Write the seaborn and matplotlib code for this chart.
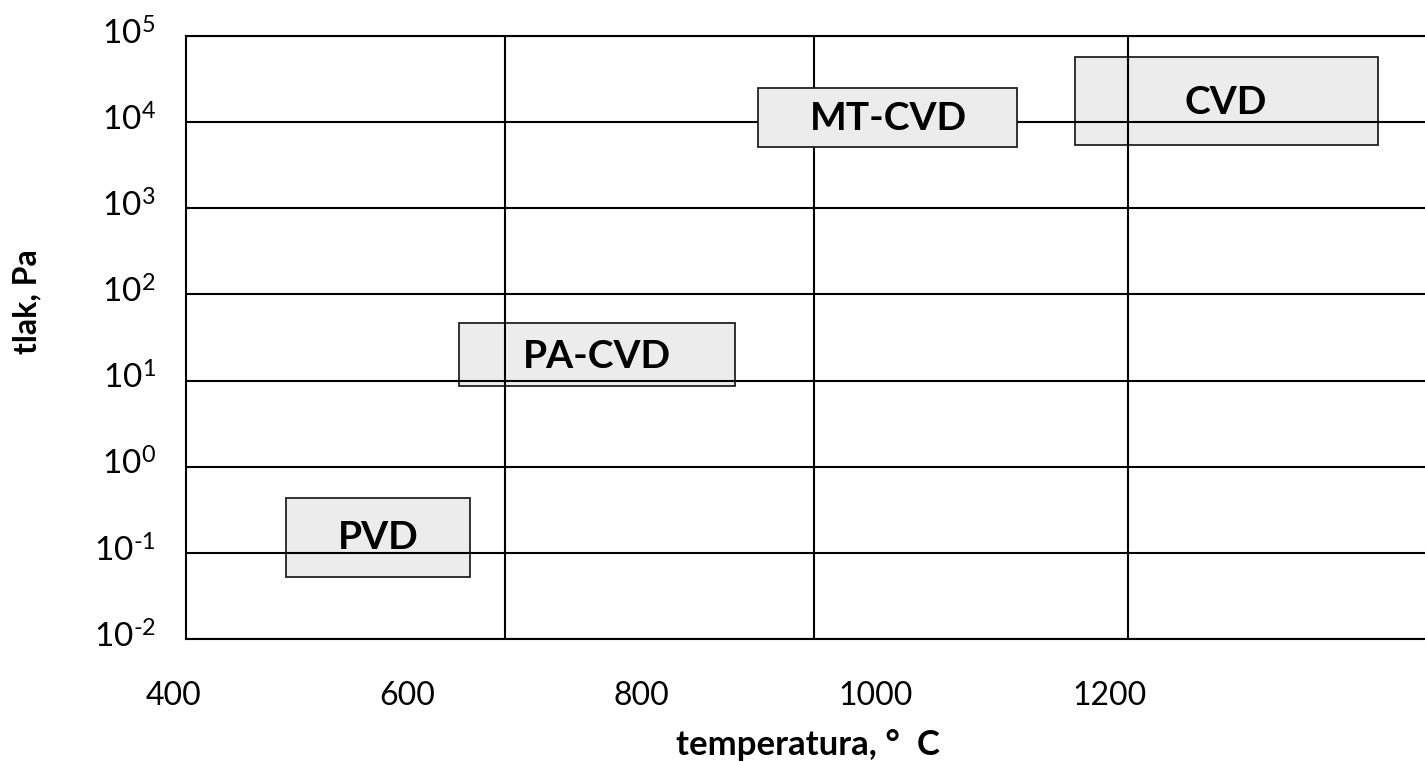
import numpy as np
import pandas as pd
import matplotlib
matplotlib.use("Agg")
import matplotlib.pyplot as plt
import matplotlib.transforms as mtransforms
import seaborn as sns

# procesy povlakovani: rozsah teplot (C) a tlaku (Pa)
procesy = ["PVD", "PA-CVD", "MT-CVD", "CVD"]
t_min = [496, 644, 899, 1170]
t_max = [653, 880, 1121, 1429]
p_min = [0.052, 8.6, 5100, 5400]
p_max = [0.43, 47, 25000, 57000]
# kde lezi popisky v obdelnicich
label_t = [575, 762, 1011, 1299]
label_p = [0.15, 19, 10900, 17100]

teploty = [400, 600, 800, 1000, 1200]
mrizka_t = [683, 947, 1215]
tlaky = [1e-2, 1e-1, 1e0, 1e1, 1e2, 1e3, 1e4, 1e5]

df = pd.DataFrame({"proces": procesy, "t_min": t_min, "t_max": t_max,
                   "p_min": p_min, "p_max": p_max,
                   "label_t": label_t, "label_p": label_p})

sns.set_theme(style="white")
plt.rcParams['font.family'] = ['Lato', 'DejaVu Sans']
plt.rcParams['mathtext.fontset'] = 'custom'
plt.rcParams['mathtext.rm'] = 'Lato'
plt.rcParams['mathtext.it'] = 'Lato:italic'
plt.rcParams['mathtext.bf'] = 'Lato:bold'
plt.rcParams['axes.unicode_minus'] = False
plt.rcParams['axes.labelcolor'] = 'black'

fig = plt.figure(figsize=(14.25, 7.62), dpi=100)
ax = fig.add_axes([186 / 1425, 123 / 762, 1244 / 1425, 603 / 762])

for _, r in df.iterrows():
    z = 3 if r["proces"] == "MT-CVD" else 2
    ax.bar(r["t_min"], r["p_max"] - r["p_min"], bottom=r["p_min"],
           width=r["t_max"] - r["t_min"], align="edge",
           color="#ececec", edgecolor="#222222", linewidth=1.3, zorder=z)
    ax.text(r["label_t"], r["label_p"], r["proces"], ha="center", va="center",
            fontsize=28, fontweight="bold", color="black", zorder=6)

ax.set_yscale("log")
ax.set_ylim(tlaky[0], tlaky[-1])
ax.set_yticks(tlaky)
ax.yaxis.set_minor_locator(matplotlib.ticker.NullLocator())


def mocnina(v, pos):
    e = int(round(np.log10(v)))
    if e < 0:
        return r"$\mathdefault{10^{\text{-}%d}}$" % (-e)
    return r"$\mathdefault{10^{%d}}$" % e


ax.yaxis.set_major_formatter(matplotlib.ticker.FuncFormatter(mocnina))
ax.set_xlim(410.7, 1473.4)
ax.set_xticks([])

ax.set_axisbelow(False)
ax.yaxis.grid(True, color="black", linewidth=1.5, zorder=2.5)
for t in mrizka_t:
    ax.axvline(t, color="black", linewidth=1.5, zorder=2.5)

ax.tick_params(axis="y", length=0, pad=22, labelsize=24, labelcolor="black")
posun = mtransforms.ScaledTranslation(0, 5 / 100, fig.dpi_scale_trans)
for lab in ax.get_yticklabels():
    lab.set_transform(lab.get_transform() + posun)

# popisky osy x
trans = mtransforms.blended_transform_factory(ax.transData, ax.transAxes)
for t in teploty:
    ax.text(t, -0.0945, str(t), transform=trans, ha="center", va="center",
            fontsize=23, color="black", clip_on=False)

for s in ["left", "bottom", "top"]:
    ax.spines[s].set_color("black")
    ax.spines[s].set_linewidth(1.5)
ax.spines["right"].set_visible(False)

ax.set_xlabel("temperatura, °  C", fontsize=25, fontweight="bold",
              va="center", color="black")
ax.xaxis.set_label_coords(0.5, -0.176)
ax.set_ylabel("tlak, Pa", fontsize=23, fontweight="bold", va="center",
              color="black")
ax.yaxis.set_label_coords(-0.128, 0.559)

fig.savefig("out.png", dpi=100)
